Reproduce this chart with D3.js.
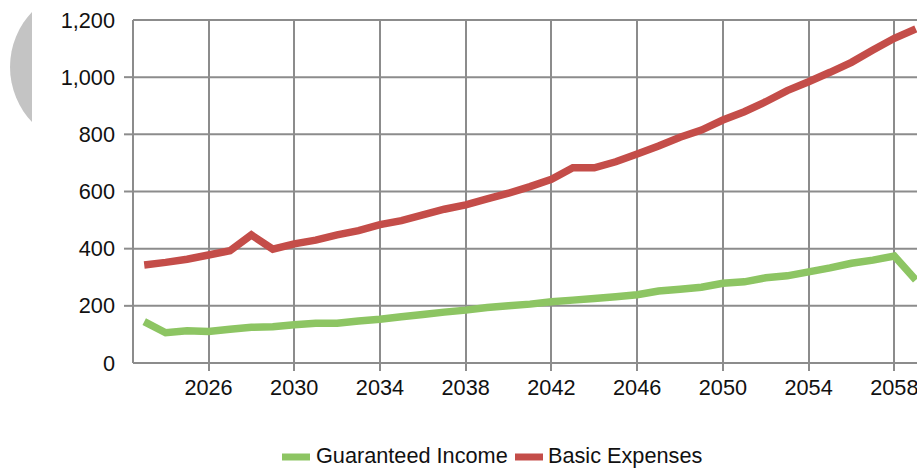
<!DOCTYPE html>
<html>
<head>
<meta charset="utf-8">
<script src="https://cdn.jsdelivr.net/npm/d3@7/dist/d3.min.js"></script>
<style>
  html, body { margin: 0; padding: 0; background: #fff; }
  svg { display: block; }
  text { font-family: "Liberation Sans", Arial, sans-serif; fill: #111; }
</style>
</head>
<body>
<svg id="chart" width="917" height="468"></svg>
<script>
// ---- data ----
const years = d3.range(2023, 2060); // 2023..2059
const guaranteedIncome = [145, 106, 113, 110, 118, 125, 127, 134, 139, 139,
  147, 153, 162, 170, 178, 185, 194, 200, 206, 214,
  220, 226, 232, 239, 252, 258, 265, 279, 284, 298,
  305, 319, 333, 349, 360, 374, 290];
const basicExpenses = [343, 352, 363, 378, 393, 448, 398, 417, 430, 448,
  463, 484, 498, 518, 538, 553, 574, 594, 617, 643,
  683, 683, 704, 731, 759, 790, 815, 850, 879, 914,
  953, 984, 1017, 1052, 1095, 1136, 1169];
const yTicks = [0, 200, 400, 600, 800, 1000, 1200];
const xTicks = [2026, 2030, 2034, 2038, 2042, 2046, 2050, 2054, 2058];
const seriesNames = ["Guaranteed Income", "Basic Expenses"];
const seriesColors = ["#8dc563", "#c44d49"];

// ---- layout ----
const svg = d3.select("#chart");
const W = 917;
const FS = 21.7;
const x = d3.scaleLinear().domain([2022.5, 2059.5]).range([133.5, 926.5]);
const y = d3.scaleLinear().domain([0, 1200]).range([363, 20]);
const gridColor = "#8c8c8c";

// decorative gray circle at left (partially hidden)
svg.append("clipPath").attr("id", "cc")
  .append("rect").attr("x", 0).attr("y", 0).attr("width", 32).attr("height", 468);
svg.append("circle").attr("cx", 90).attr("cy", 67).attr("r", 80)
  .attr("fill", "#c4c4c4").attr("clip-path", "url(#cc)");

// horizontal gridlines
const g = svg.append("g");
g.selectAll("line.hg").data(yTicks.filter(d => d > 0)).join("line")
  .attr("x1", 133).attr("x2", W)
  .attr("y1", d => y(d)).attr("y2", d => y(d))
  .attr("stroke", gridColor).attr("stroke-width", 2);

// vertical gridlines incl. tick below axis
g.selectAll("line.vg").data(xTicks).join("line")
  .attr("x1", d => Math.round(x(d))).attr("x2", d => Math.round(x(d)))
  .attr("y1", y(1200)).attr("y2", y(0) + 8)
  .attr("stroke", gridColor).attr("stroke-width", 2);

// y axis line and ticks
g.append("line").attr("x1", 133).attr("x2", 133).attr("y1", y(1200)).attr("y2", y(0))
  .attr("stroke", gridColor).attr("stroke-width", 2);
g.selectAll("line.yt").data(yTicks.filter(d => d > 0 && d < 1200)).join("line")
  .attr("x1", 124).attr("x2", 133)
  .attr("y1", d => y(d)).attr("y2", d => y(d))
  .attr("stroke", gridColor).attr("stroke-width", 2);
// x axis line
g.append("line").attr("x1", 133).attr("x2", W).attr("y1", y(0)).attr("y2", y(0))
  .attr("stroke", gridColor).attr("stroke-width", 2);

// y tick labels
svg.selectAll("text.yl").data(yTicks).join("text")
  .attr("x", 115).attr("y", d => y(d) + 7.5)
  .attr("text-anchor", "end").attr("font-size", FS)
  .text(d => d3.format(",")(d));

// x tick labels
svg.selectAll("text.xl").data(xTicks).join("text")
  .attr("x", d => x(d)).attr("y", 395)
  .attr("text-anchor", "middle").attr("font-size", FS)
  .text(d => d);

// lines
const line = d3.line().x((d, i) => x(years[i])).y(d => y(d));
[guaranteedIncome, basicExpenses].forEach((s, k) => {
  svg.append("path").datum(s)
    .attr("d", line)
    .attr("fill", "none")
    .attr("stroke", seriesColors[k])
    .attr("stroke-width", 7.5)
    .attr("stroke-linejoin", "miter")
    .attr("stroke-linecap", "butt");
});

// legend
const lg = svg.append("g");
const legendItems = [
  { name: seriesNames[0], color: seriesColors[0], sx: 282, tx: 316 },
  { name: seriesNames[1], color: seriesColors[1], sx: 515, tx: 548 }
];
legendItems.forEach(it => {
  lg.append("line").attr("x1", it.sx).attr("x2", it.sx + 28)
    .attr("y1", 457).attr("y2", 457)
    .attr("stroke", it.color).attr("stroke-width", 7);
  lg.append("text").attr("x", it.tx).attr("y", 463)
    .attr("font-size", FS).text(it.name);
});
</script>
</body>
</html>
